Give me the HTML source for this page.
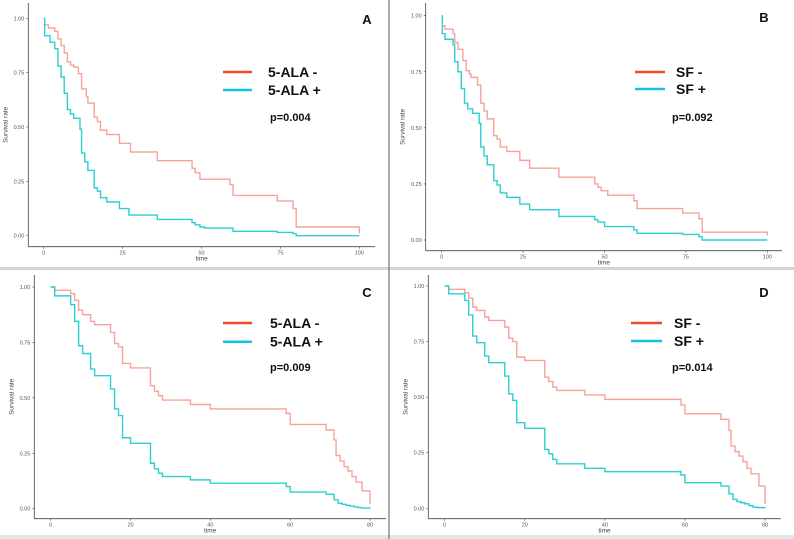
<!DOCTYPE html>
<html><head><meta charset="utf-8">
<style>
body{margin:0;background:#fff;width:794px;height:539px;overflow:hidden;font-family:"Liberation Sans",sans-serif}
svg{display:block}
</style></head>
<body>
<svg id="fig" width="794" height="539" xmlns="http://www.w3.org/2000/svg">
<rect x="0" y="0" width="794" height="539" fill="#fff"/>
<rect x="0" y="267" width="794" height="3" fill="#d4d4d4"/>
<rect x="0" y="535" width="794" height="4" fill="#e6e6e6"/>
<line x1="389" y1="0" x2="389" y2="539" stroke="#555" stroke-width="1"/>
</svg>
<script>
// Panel A: 5-ALA (time 0-100)
const aRedT=[0,1.5,3.5,4.5,5.5,6.5,7.5,8.5,9.5,11,12,13.5,14,16,17,18,20,24,27.5,36,47,48,49.5,59,60,74,79,80,100];
const aRedS=[0.97,0.955,0.94,0.905,0.875,0.84,0.80,0.785,0.775,0.745,0.675,0.64,0.61,0.545,0.525,0.485,0.465,0.425,0.385,0.345,0.31,0.29,0.26,0.235,0.185,0.16,0.125,0.04,0.01];
const aBlueT=[0,0.3,2,3.5,4.5,5.5,6.5,7.5,8.5,9.5,11.5,12,13,14,16,17,18,20,24,27,36,47,48,49.5,51,60,74,79,80,100];
const aBlueS=[1,0.92,0.89,0.86,0.78,0.73,0.655,0.58,0.56,0.54,0.49,0.38,0.34,0.30,0.22,0.205,0.175,0.155,0.125,0.095,0.075,0.06,0.05,0.04,0.035,0.02,0.015,0.01,0.0,0.0];
// Panel B: SF (time 0-100)
const bRedT=[0,1,3.5,4,5,6.5,7.5,8.5,9,11,12,13,14,16,17,18,20,24,27,36,47,48,49,51,59,60,74,79,80,100];
const bRedS=[0.955,0.94,0.92,0.88,0.85,0.80,0.755,0.74,0.725,0.69,0.61,0.575,0.54,0.465,0.45,0.415,0.395,0.355,0.32,0.28,0.25,0.235,0.22,0.20,0.175,0.14,0.12,0.095,0.035,0.02];
const bBlueT=[0,0.2,1,3.5,4,5,6,7,8,9.5,11.5,12,13,14,16,17,18,20,24,27,36,47,48,50,59,60,74,79,80,100];
const bBlueS=[1,0.92,0.895,0.87,0.795,0.75,0.675,0.61,0.585,0.565,0.52,0.415,0.375,0.335,0.265,0.245,0.21,0.19,0.16,0.135,0.105,0.09,0.08,0.06,0.045,0.03,0.025,0.015,0.0,0.0];
// Panel C: 5-ALA (time 0-80)
const cRedT=[0,1,5,6,7,8,10,11,15,16,17,18,20,25,26,27,28,35,40,59,60,69,71,71.5,72.5,73.5,74.5,75.5,76.5,78,80];
const cRedS=[1,0.985,0.97,0.94,0.895,0.875,0.845,0.83,0.795,0.745,0.73,0.655,0.635,0.555,0.53,0.51,0.49,0.47,0.45,0.43,0.38,0.355,0.31,0.24,0.215,0.19,0.17,0.145,0.12,0.08,0.02];
const cBlueT=[0,1,5,6,7,8,10,11,15,16,17,18,20,25,26,27,28,35,40,59,60,69,71,72,73,74,75,76,77,78,80];
const cBlueS=[1,0.96,0.92,0.845,0.735,0.70,0.63,0.60,0.54,0.45,0.42,0.32,0.295,0.205,0.18,0.16,0.145,0.13,0.115,0.10,0.075,0.065,0.04,0.025,0.02,0.015,0.012,0.008,0.005,0.003,0.0];
// Panel D: SF (time 0-80)
const dRedT=[0,1,5,6,7,8,10,11,15,16,17,18,20,25,26,27,28,35,40,59,60,69,71,71.5,72.5,73.5,74.5,75.5,76.5,78.5,80];
const dRedS=[1,0.985,0.97,0.945,0.905,0.89,0.86,0.845,0.815,0.765,0.75,0.68,0.665,0.59,0.57,0.545,0.53,0.51,0.49,0.465,0.425,0.40,0.35,0.28,0.255,0.235,0.21,0.18,0.155,0.10,0.02];
const dBlueT=[0,1,5,6,7,8,10,11,15,16,17,18,20,25,26,27,28,35,40,59,60,69,71,72,73,74,75,76,77,78,80];
const dBlueS=[1,0.965,0.935,0.87,0.775,0.745,0.685,0.655,0.595,0.515,0.485,0.385,0.36,0.265,0.245,0.22,0.20,0.18,0.165,0.15,0.115,0.10,0.065,0.04,0.03,0.025,0.02,0.012,0.005,0.003,0.0];
const xTicks100=[0,25,50,75,100];
const xTicks80=[0,20,40,60,80];
const yTicks=[0,0.25,0.5,0.75,1];
const yTickLabels=["0.00","0.25","0.50","0.75","1.00"];

const NS="http://www.w3.org/2000/svg";
const svg=document.getElementById('fig');
function mk(tag,attrs,parent){const e=document.createElementNS(NS,tag);for(const k in attrs)e.setAttribute(k,attrs[k]);(parent||svg).appendChild(e);return e;}

function panel(cfg){
  const g=mk('g',{});
  
  
  const sx=t=>cfg.x0+(t/cfg.tmax)*(cfg.x1-cfg.x0);
  const sy=v=>cfg.y0+(1-v)*(cfg.y1-cfg.y0);
  // axes
  const ya=mk('line',{x1:cfg.ax,y1:cfg.top,x2:cfg.ax,y2:cfg.ay,stroke:'#444','stroke-width':0.8},g);
  
  
  const xa=mk('line',{x1:cfg.ax,y1:cfg.ay,x2:cfg.axr,y2:cfg.ay,stroke:'#444','stroke-width':0.8},g);
  
  
  yTicks.forEach((v,i)=>{
    const y=sy(v);
    mk('line',{x1:cfg.ax-2,y1:y,x2:cfg.ax,y2:y,stroke:'#444','stroke-width':0.6},g);
    const t=mk('text',{x:cfg.ax-4,y:y+2,'font-size':5.5,fill:'#555','text-anchor':'end'},g);
    
    
    t.textContent=yTickLabels[i];
  });
  cfg.xticks.forEach(v=>{
    const x=sx(v);
    mk('line',{x1:x,y1:cfg.ay,x2:x,y2:cfg.ay+2,stroke:'#444','stroke-width':0.6},g);
    const t=mk('text',{x:x,y:cfg.ay+8,'font-size':5.5,fill:'#555','text-anchor':'middle'},g);
    
    
    t.textContent=v;
  });
  const xt=mk('text',{x:(cfg.ax+cfg.axr)/2,y:cfg.ay+14,'font-size':6.5,fill:'#444','text-anchor':'middle'},g);
  
  
  xt.textContent='time';
  const cy=(cfg.top+cfg.ay)/2;
  const yt=mk('text',{x:cfg.ax-21,y:cy,'font-size':6.5,fill:'#444','text-anchor':'middle',transform:`rotate(-90 ${cfg.ax-21} ${cy})`},g);
  
  
  yt.textContent='Survival rate';
  // curves
  function curve(T,S,color,name){
    let d=`M${sx(T[0])},${sy(S[0])}`;
    for(let i=1;i<T.length;i++){d+=` H${sx(T[i])} V${sy(S[i])}`;}
    const p=mk('path',{d:d,fill:'none',stroke:color,'stroke-width':1.4},g);
    
    
  }
  curve(cfg.rT,cfg.rS,'#f6a39c',cfg.letter.toLowerCase()+'-negative-curve');
  curve(cfg.bT,cfg.bS,'#2ccfd2',cfg.letter.toLowerCase()+'-positive-curve');
  // letter
  const L=mk('text',{x:cfg.letterX,y:cfg.letterY,'font-size':13,'font-weight':'bold',fill:'#111','text-anchor':'middle'},g);
  
  
  L.textContent=cfg.letter;
  // legend
  const lg=mk('g',{},g);
  
  
  [[cfg.lg1,'#f24a22',cfg.name+' -'],[cfg.lg2,'#12c2e6',cfg.name+' +']].forEach(([y,c,txt])=>{
    mk('line',{x1:cfg.lgx1,y1:y,x2:cfg.lgx2,y2:y,stroke:c,'stroke-width':2.5},lg);
    const t=mk('text',{x:cfg.lgtx,y:y+5,'font-size':14,'font-weight':'bold',fill:'#111'},lg);
    
    
    t.textContent=txt;
  });
  const p=mk('text',{x:cfg.px,y:cfg.py,'font-size':11,'font-weight':'bold',fill:'#111'},g);
  
  
  p.textContent=cfg.p;
}

panel({letter:'A',name:'5-ALA',tmax:100,x0:43.7,x1:359.3,y0:18.3,y1:235.7,ax:28.3,ay:246.7,axr:375,top:3,xticks:xTicks100,
  rT:aRedT,rS:aRedS,bT:aBlueT,bS:aBlueS,letterX:367,letterY:24,lgx1:223,lgx2:252,lg1:72,lg2:90,lgtx:268,px:270,py:121,p:'p=0.004'});
panel({letter:'B',name:'SF',tmax:100,x0:441.7,x1:767.3,y0:15.7,y1:240,ax:425.7,ay:250.7,axr:782,top:3,xticks:xTicks100,
  rT:bRedT,rS:bRedS,bT:bBlueT,bS:bBlueS,letterX:764,letterY:22,lgx1:635,lgx2:665,lg1:72,lg2:89,lgtx:676,px:672,py:121,p:'p=0.092'});
panel({letter:'C',name:'5-ALA',tmax:80,x0:50.7,x1:370,y0:287,y1:508.7,ax:34.3,ay:518.7,axr:386,top:275,xticks:xTicks80,
  rT:cRedT,rS:cRedS,bT:cBlueT,bS:cBlueS,letterX:367,letterY:297,lgx1:223,lgx2:252,lg1:323,lg2:341.7,lgtx:270,px:270,py:371,p:'p=0.009'});
panel({letter:'D',name:'SF',tmax:80,x0:444.7,x1:765,y0:286,y1:508.3,ax:428.3,ay:518.7,axr:780.7,top:275,xticks:xTicks80,
  rT:dRedT,rS:dRedS,bT:dBlueT,bS:dBlueS,letterX:764,letterY:297,lgx1:631,lgx2:662,lg1:323,lg2:341,lgtx:674,px:672,py:371,p:'p=0.014'});
</script>
</body></html>
